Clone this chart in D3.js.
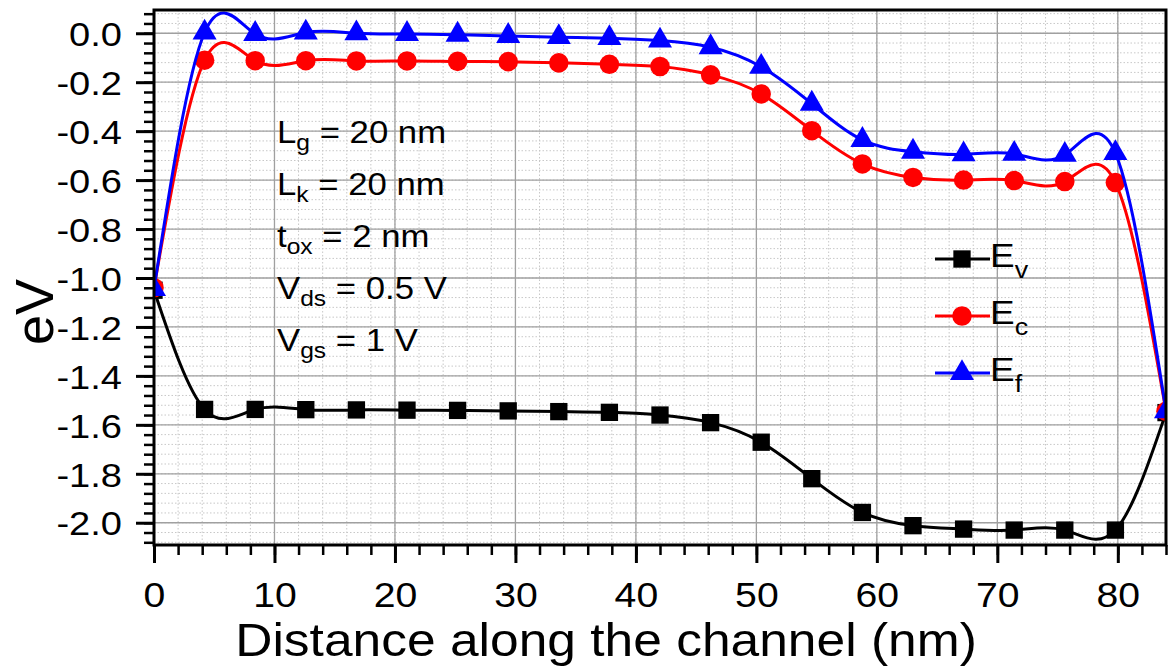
<!DOCTYPE html>
<html>
<head>
<meta charset="utf-8">
<script src="https://cdn.jsdelivr.net/npm/d3@7"></script>
<style>
  body { margin: 0; background: #fff; }
  text { font-family: "Liberation Sans", Arial, sans-serif; fill: #000; }
</style>
</head>
<body>
<div id="chart"></div>
<script>
var width = 1168;
var height = 668;

var mLeft = 154, mRight = 1166, mTop = 10, mBottom = 545;
var stretch = 1.12; // text in the original is a bit wider than Arial

// positions along the channel (nm)
var distance = [0, 4.2, 8.4, 12.6, 16.8, 21, 25.2, 29.4, 33.6, 37.8, 42,
	46.2, 50.4, 54.6, 58.8, 63, 67.2, 71.4, 75.6, 79.8, 84];

var ev = [-1.05, -1.537, -1.537, -1.538, -1.539, -1.54, -1.541, -1.543, -1.546, -1.549, -1.56,
	-1.591, -1.671, -1.82, -1.958, -2.012, -2.026, -2.03, -2.03, -2.03, -1.55];
var ec = [-1.04, -0.11, -0.112, -0.112, -0.113, -0.113, -0.115, -0.116, -0.121, -0.127, -0.136,
	-0.17, -0.248, -0.398, -0.534, -0.589, -0.6, -0.602, -0.606, -0.61, -1.545];
var ef = [-1.045, 0.003, -0.003, 0.003, 0.0, -0.003, -0.006, -0.011, -0.016, -0.02, -0.03,
	-0.057, -0.137, -0.288, -0.436, -0.484, -0.495, -0.493, -0.497, -0.49, -1.545];

var xTicks = [0, 10, 20, 30, 40, 50, 60, 70, 80];
var yTicks = [0, -0.2, -0.4, -0.6, -0.8, -1.0, -1.2, -1.4, -1.6, -1.8, -2.0];

var notes = [["L", "g", " = 20 nm"], ["L", "k", " = 20 nm"], ["t", "ox", " = 2 nm"],
	["V", "ds", " = 0.5 V"], ["V", "gs", " = 1 V"]];

var series = [
	{ name: "v", values: ev, color: "#000000", symbol: d3.symbolSquare, size: 300 },
	{ name: "c", values: ec, color: "#ff0000", symbol: d3.symbolCircle, size: 300 },
	{ name: "f", values: ef, color: "#0000ff", symbol: d3.symbolTriangle, size: 250 }
];

var svg = d3.select("#chart")
	.append("svg")
	.attr("width", width)
	.attr("height", height);

var x = d3.scaleLinear().domain([0, 84]).range([mLeft, mRight]);
var y = d3.scaleLinear().domain([-2.091, 0.095]).range([mBottom, mTop]);

var xMinor = d3.range(0, 84.01, 2);
var yMinor = d3.range(-2.08, 0.09, 0.04).map(function(v){ return Math.round(v * 100) / 100; });

// widen a text horizontally around its own x
function widen(sel, x0){
	sel.attr("x", x0 / stretch).attr("transform", "scale(" + stretch + ",1)");
}

// minor grid (dotted)
svg.append("g").selectAll("line")
	.data(xMinor)
	.enter().append("line")
	.attr("x1", function(d){ return x(d); }).attr("x2", function(d){ return x(d); })
	.attr("y1", mTop).attr("y2", mBottom)
	.attr("stroke", "#c8c8c8").attr("stroke-width", 1).attr("stroke-dasharray", "1.5,2");
svg.append("g").selectAll("line")
	.data(yMinor)
	.enter().append("line")
	.attr("x1", mLeft).attr("x2", mRight)
	.attr("y1", function(d){ return y(d); }).attr("y2", function(d){ return y(d); })
	.attr("stroke", "#c8c8c8").attr("stroke-width", 1).attr("stroke-dasharray", "1.5,2");

// major grid
svg.append("g").selectAll("line")
	.data(xTicks)
	.enter().append("line")
	.attr("x1", function(d){ return x(d); }).attr("x2", function(d){ return x(d); })
	.attr("y1", mTop).attr("y2", mBottom)
	.attr("stroke", "#a0a0a0").attr("stroke-width", 1.3);
svg.append("g").selectAll("line")
	.data(yTicks)
	.enter().append("line")
	.attr("x1", mLeft).attr("x2", mRight)
	.attr("y1", function(d){ return y(d); }).attr("y2", function(d){ return y(d); })
	.attr("stroke", "#a0a0a0").attr("stroke-width", 1.3);

// clip for the curves
svg.append("clipPath").attr("id", "plot")
	.append("rect").attr("x", mLeft).attr("y", mTop)
	.attr("width", mRight - mLeft).attr("height", mBottom - mTop);

var line = d3.line()
	.curve(d3.curveNatural)
	.x(function(d, i){ return x(distance[i]); })
	.y(function(d){ return y(d); });

var plot = svg.append("g").attr("clip-path", "url(#plot)");

series.forEach(function(s){
	plot.append("path")
		.attr("d", line(s.values))
		.attr("fill", "none")
		.attr("stroke", s.color)
		.attr("stroke-width", 3);
	plot.selectAll(".m" + s.name)
		.data(s.values)
		.enter().append("path")
		.attr("class", "m" + s.name)
		.attr("transform", function(d, i){ return "translate(" + x(distance[i]) + "," + y(d) + ")"; })
		.attr("d", d3.symbol().type(s.symbol).size(s.size))
		.attr("fill", s.color);
});

// axes
var xAxis = d3.axisBottom(x).tickValues(xTicks).tickSize(18).tickFormat(d3.format("d"));
var yAxis = d3.axisLeft(y).tickValues(yTicks).tickSize(18);

svg.append("g")
	.attr("transform", "translate(0," + mBottom + ")")
	.call(d3.axisBottom(x).tickValues(xMinor).tickSize(10).tickFormat(""))
	.call(function(g){ g.select(".domain").remove(); g.selectAll("line").attr("stroke-width", 2.5); });
svg.append("g")
	.attr("transform", "translate(" + mLeft + ",0)")
	.call(d3.axisLeft(y).tickValues(yMinor).tickSize(10).tickFormat(""))
	.call(function(g){ g.select(".domain").remove(); g.selectAll("line").attr("stroke-width", 2.5); });

svg.append("g")
	.attr("transform", "translate(0," + mBottom + ")")
	.call(xAxis)
	.call(function(g){
		g.select(".domain").remove();
		g.selectAll("line").attr("stroke-width", 3);
		g.selectAll("text").attr("font-size", 35).attr("y", 37).attr("dy", "0.71em")
			.attr("font-family", null).call(widen, 0);
	});
svg.append("g")
	.attr("transform", "translate(" + mLeft + ",0)")
	.call(yAxis)
	.call(function(g){
		g.select(".domain").remove();
		g.selectAll("line").attr("stroke-width", 3);
		g.selectAll("text").attr("font-size", 34).attr("dy", "0.36em")
			.attr("font-family", null).call(widen, -32)
			.text(function(d){ return d3.format(".1f")(d).replace("−", "-"); });
	});
svg.selectAll("g").attr("font-family", null).attr("font-size", null);

// frame
svg.append("rect")
	.attr("x", mLeft).attr("y", mTop)
	.attr("width", mRight - mLeft).attr("height", mBottom - mTop)
	.attr("fill", "none").attr("stroke", "#000").attr("stroke-width", 3);

// axis titles
svg.append("text")
	.attr("y", 656)
	.attr("text-anchor", "middle")
	.attr("font-size", 46)
	.text("Distance along the channel (nm)")
	.call(widen, 606);
svg.append("text")
	.attr("transform", "rotate(-90)")
	.attr("x", -312).attr("y", 53)
	.attr("text-anchor", "middle")
	.attr("font-size", 54)
	.text("eV");

// annotations
var ann = svg.append("g");
notes.forEach(function(n, i){
	var t = ann.append("text")
		.attr("y", 143 + i * 52)
		.attr("font-size", 31)
		.call(widen, 277);
	t.append("tspan").text(n[0]);
	t.append("tspan").attr("font-size", 22).attr("dy", 7).text(n[1]);
	t.append("tspan").attr("dy", -7).text(n[2]);
});

// legend
var legend = svg.append("g");
series.forEach(function(s, i){
	var ly = 259 + i * 57;
	legend.append("line")
		.attr("x1", 935).attr("x2", 990).attr("y1", ly).attr("y2", ly)
		.attr("stroke", s.color).attr("stroke-width", 3);
	legend.append("path")
		.attr("transform", "translate(962," + ly + ")")
		.attr("d", d3.symbol().type(s.symbol).size(s.size))
		.attr("fill", s.color);
	var t = legend.append("text")
		.attr("y", ly + 8.5)
		.attr("font-size", 33)
		.call(widen, 990);
	t.append("tspan").text("E");
	t.append("tspan").attr("font-size", 24).attr("dy", 11).text(s.name);
});
</script>
</body>
</html>
